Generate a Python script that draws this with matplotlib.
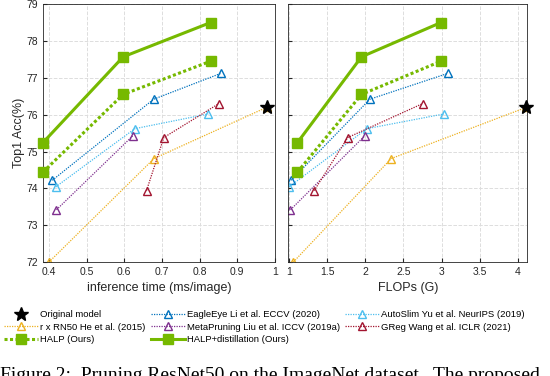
import numpy as np
import matplotlib.pyplot as plt

plt.rcParams['font.family'] = ['Liberation Sans', 'DejaVu Sans']

# Data (inference time in ms/image, FLOPs in G, Top1 accuracy in %)
orig_time, orig_flops, orig_acc = 0.978, 4.11, 76.2

rx_time = [0.40, 0.679, 0.978]
rx_flops = [1.057, 2.34, 4.11]
rx_acc = [72.0, 74.81, 76.2]

eagle_time = [0.409, 0.678, 0.856]
eagle_flops = [1.03, 2.06, 3.08]
eagle_acc = [74.22, 76.42, 77.12]

autoslim_time = [0.418, 0.628, 0.823]
autoslim_flops = [1.0, 2.02, 3.03]
autoslim_acc = [74.04, 75.62, 76.02]

meta_time = [0.42, 0.622]
meta_flops = [1.02, 1.99]
meta_acc = [73.42, 75.42]

greg_time = [0.659, 0.705, 0.851]
greg_flops = [1.33, 1.77, 2.75]
greg_acc = [73.94, 75.38, 76.30]

halp_time = [0.384, 0.597, 0.829]
halp_flops = [1.11, 1.95, 2.99]
halp_acc = [74.44, 76.55, 77.45]

halpd_time = [0.384, 0.597, 0.829]
halpd_flops = [1.11, 1.95, 2.99]
halpd_acc = [75.24, 77.57, 78.5]

green = '#76B900'
dot = (0, (1, 1))

fig = plt.figure(figsize=(5.5, 3.76), dpi=100)
ax1 = fig.add_axes([0.078, 0.303, 0.422, 0.686])
ax2 = fig.add_axes([0.524, 0.303, 0.4345, 0.686])


def draw(ax, x_rx, x_eagle, x_auto, x_meta, x_greg, x_halp, x_halpd, x_orig):
    ax.plot(x_rx, rx_acc, color='#EDB120', ls=dot, lw=0.9, marker='^',
            mfc='none', mew=1.0, ms=6, label='r x RN50 He et al. (2015)')
    ax.plot(x_eagle, eagle_acc, color='#0072BD', ls=dot, lw=0.9, marker='^',
            mfc='none', mew=1.0, ms=6, label='EagleEye Li et al. ECCV (2020)')
    ax.plot(x_auto, autoslim_acc, color='#4DBEEE', ls=dot, lw=0.9, marker='^',
            mfc='none', mew=1.0, ms=6, label='AutoSlim Yu et al. NeurIPS (2019)')
    ax.plot(x_meta, meta_acc, color='#7E2F8E', ls=dot, lw=0.9, marker='^',
            mfc='none', mew=1.0, ms=6, label='MetaPruning Liu et al. ICCV (2019a)')
    ax.plot(x_greg, greg_acc, color='#A2142F', ls=dot, lw=0.9, marker='^',
            mfc='none', mew=1.0, ms=6, label='GReg Wang et al. ICLR (2021)')
    ax.plot(x_halp, halp_acc, color=green, ls=(0, (1, 0.8)), lw=2.2, marker='s',
            ms=6.5, label='HALP (Ours)', clip_on=False, zorder=4)
    ax.plot(x_halpd, halpd_acc, color=green, ls='-', lw=2.2, marker='s',
            ms=6.5, label='HALP+distillation (Ours)', clip_on=False, zorder=4)
    ax.plot([x_orig], [orig_acc], color='black', marker='*', ls='none', ms=10,
            label='Original model', clip_on=False, zorder=5)
    ax.set_ylim(72, 79)
    ax.set_yticks(np.arange(72, 80, 1))
    ax.grid(True, ls='--', color='#dddddd', lw=0.7)
    ax.tick_params(direction='in', labelsize=7.5, colors='#262626', length=3)
    for s in ax.spines.values():
        s.set_color('#262626')
        s.set_linewidth(0.6)


draw(ax1, rx_time, eagle_time, autoslim_time, meta_time, greg_time,
     halp_time, halpd_time, orig_time)
ax1.set_xlim(0.384, 1.0)
ax1.set_xticks(np.arange(0.4, 1.01, 0.1))
ax1.set_xticklabels(['0.4', '0.5', '0.6', '0.7', '0.8', '0.9', '1'])
ax1.set_xlabel('inference time (ms/image)', fontsize=9, color='#262626', labelpad=4)
ax1.set_ylabel('Top1 Acc(%)', fontsize=9, color='#262626', labelpad=1)

draw(ax2, rx_flops, eagle_flops, autoslim_flops, meta_flops, greg_flops,
     halp_flops, halpd_flops, orig_flops)
ax2.set_xlim(0.99, 4.12)
ax2.set_xticks([1, 1.5, 2, 2.5, 3, 3.5, 4])
ax2.set_xticklabels(['1', '1.5', '2', '2.5', '3', '3.5', '4'])
ax2.set_yticklabels([])
ax2.set_xlabel('FLOPs (G)', fontsize=9, color='#262626', labelpad=4)

h, l = ax1.get_legend_handles_labels()
order = ['Original model', 'r x RN50 He et al. (2015)', 'HALP (Ours)',
         'EagleEye Li et al. ECCV (2020)', 'MetaPruning Liu et al. ICCV (2019a)',
         'HALP+distillation (Ours)', 'AutoSlim Yu et al. NeurIPS (2019)',
         'GReg Wang et al. ICLR (2021)']
hd = dict(zip(l, h))
fig.legend([hd[k] for k in order], order, ncol=3, loc='upper left',
           bbox_to_anchor=(0.0, 0.185), frameon=False, fontsize=6.8,
           handlelength=3.6, handletextpad=0.2, columnspacing=0.6,
           labelspacing=0.35, borderaxespad=0)

fig.text(0.0, 1 - 367 / 376, 'Figure 2:  Pruning ResNet50 on the ImageNet dataset.  The proposed',
         family='Liberation Serif', fontsize=14, va='top', ha='left')

fig.savefig('out.png', dpi=100)
